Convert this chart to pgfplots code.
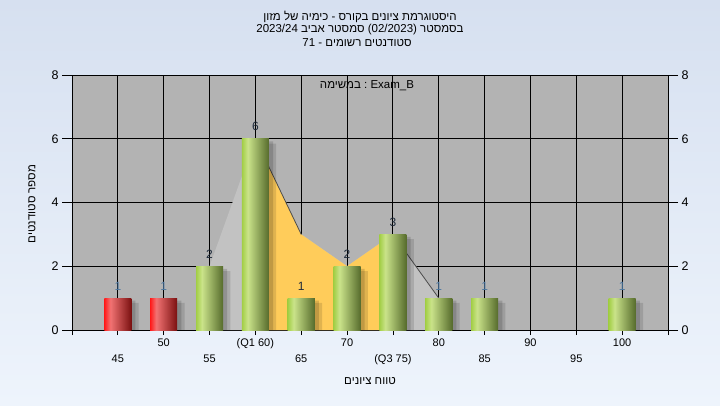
\documentclass[border=0pt]{standalone}
\usepackage{fontspec}
\setmainfont{Liberation Sans}
\newfontfamily\heb[Script=Hebrew]{Liberation Sans}
\usepackage{pgfplots}
\pgfplotsset{compat=1.18}
\TeXXeTstate=1

\definecolor{bgtop}{HTML}{D6E0F0}
\definecolor{bgbot}{HTML}{EEF4FC}
\definecolor{plotbg}{HTML}{B3B3B3}
\definecolor{areagray}{HTML}{C2C2C2}
\definecolor{areayel}{HTML}{FFCC5A}
\definecolor{redA}{HTML}{FF1A1A}
\definecolor{redB}{HTML}{F27373}
\definecolor{redC}{HTML}{7A1010}
\definecolor{grnA}{HTML}{A2CE45}
\definecolor{grnB}{HTML}{CAE38A}
\definecolor{grnC}{HTML}{566B2C}
\definecolor{lblDark}{HTML}{1E2A3A}
\definecolor{lblLight}{HTML}{4A76A0}

\pgfdeclarehorizontalshading{redbar}{100bp}{color(0bp)=(redA); color(25bp)=(redA); color(36bp)=(redB); color(75bp)=(redC); color(100bp)=(redC)}
\pgfdeclarehorizontalshading{grnbar}{100bp}{color(0bp)=(grnA); color(25bp)=(grnA); color(36bp)=(grnB); color(75bp)=(grnC); color(100bp)=(grnC)}

\pgfplotsset{
  barbase/.style={ybar, bar width=2.95, bar shift=0pt, draw=none, shade,
    nodes near coords,
    every node near coord/.append style={font=\fontsize{12}{12}\selectfont, anchor=south, yshift=4.5pt}},
  redb/.style={barbase, shading=redbar, every node near coord/.append style={text=lblLight}},
  grnd/.style={barbase, shading=grnbar, every node near coord/.append style={text=lblDark}},
  grnl/.style={barbase, shading=grnbar, every node near coord/.append style={text=lblLight}},
}

\begin{document}
\begin{tikzpicture}[x=1pt,y=1pt]
\shade[top color=bgtop, bottom color=bgbot] (0,0) rectangle (720,405);

\begin{axis}[
  at={(72pt,75pt)}, anchor=south west,
  scale only axis, width=596pt, height=255pt,
  xmin=40, xmax=105, ymin=0, ymax=8,
  axis background/.style={fill=plotbg},
  grid=major, grid style={black, line width=0.9pt},
  axis line style={black, line width=0.9pt},
  xtick={50,60,...,100},
  xticklabels={50,(Q1 60),70,80,90,100},
  extra x ticks={40,45,55,65,75,85,95,105},
  extra x tick labels={,45,55,65,(Q3 75),85,95,},
  extra x tick style={grid=major, tick label style={yshift=-16pt}},
  ytick={0,2,...,8}, yticklabels={},
  ytick style={draw=none},
  tick align=outside, tick pos=left,
  major tick length=5pt,
  xtick style={black, line width=0.8pt},
  tick label style={font=\fontsize{11}{12}\selectfont, black},
  /pgf/number format/assume math mode=true,
  clip=false,
]
% frequency polygon area
\addplot[fill=areagray, draw=none] coordinates {(55,2)(60,6)(65,3)(70,2)(75,3)(80,1)} \closedcycle;
\addplot[fill=areayel, draw=none] coordinates {(60,6)(65,3)(70,2)(75,3)} \closedcycle;
\addplot[color=black!70, line width=0.8pt] coordinates {(60,6)(65,3)};
\addplot[color=black!70, line width=0.8pt] coordinates {(75,3)(80,1)};
% shadows
\addplot[ybar, bar width=2.95, bar shift=0.45, fill=black, fill opacity=0.14, draw=none]
  coordinates {(45,0.92)(50,0.92)(55,1.92)(60,5.92)(65,0.92)(70,1.92)(75,2.92)(80,0.92)(85,0.92)(100,0.92)};
\addplot[ybar, bar width=2.95, bar shift=0.8, fill=black, fill opacity=0.12, draw=none]
  coordinates {(45,0.85)(50,0.85)(55,1.85)(60,5.85)(65,0.85)(70,1.85)(75,2.85)(80,0.85)(85,0.85)(100,0.85)};
% bars, one per plot so each gets its own shading
\addplot[redb] coordinates {(45,1)};
\addplot[redb] coordinates {(50,1)};
\addplot[grnd] coordinates {(55,2)};
\addplot[grnd] coordinates {(60,6)};
\addplot[grnd] coordinates {(65,1)};
\addplot[grnd] coordinates {(70,2)};
\addplot[grnd] coordinates {(75,3)};
\addplot[grnl] coordinates {(80,1)};
\addplot[grnl] coordinates {(85,1)};
\addplot[grnl] coordinates {(100,1)};
\end{axis}

% left y ticks
\begin{axis}[
  at={(72pt,75pt)}, anchor=south west,
  scale only axis, width=596pt, height=255pt,
  xmin=40, xmax=105, ymin=0, ymax=8,
  axis x line=none, axis y line*=left,
  axis line style={draw=none},
  ytick={0,2,...,8},
  tick align=outside, major tick length=10pt,
  ytick style={black, line width=0.8pt},
  tick label style={font=\fontsize{12.5}{13}\selectfont, black},
  /pgf/number format/assume math mode=true,
]
\addplot[draw=none] coordinates {(40,0)};
\end{axis}
% right y ticks
\begin{axis}[
  at={(72pt,75pt)}, anchor=south west,
  scale only axis, width=596pt, height=255pt,
  xmin=40, xmax=105, ymin=0, ymax=8,
  axis x line=none, axis y line*=right,
  axis line style={draw=none},
  ytick={0,2,...,8},
  tick align=outside, major tick length=10pt,
  ytick style={black, line width=0.8pt},
  tick label style={font=\fontsize{12.5}{13}\selectfont, black},
  /pgf/number format/assume math mode=true,
]
\addplot[draw=none] coordinates {(40,0)};
\end{axis}

% titles
\node[font=\heb\fontsize{11.5}{13}\selectfont, text=black] at (360,388) {\beginR היסטוגרמת ציונים בקורס - כימיה של מזון\endR};
\node[font=\heb\fontsize{11.5}{13}\selectfont, text=black] at (360,375) {\beginR בסמסטר \beginL(02/2023)\endL{}  סמסטר אביב \beginL 2023/24\endL\endR};
\node[font=\heb\fontsize{11.5}{13}\selectfont, text=black] at (357,362) {\beginR סטודנטים רשומים - 71\endR};
\node[font=\heb\fontsize{11.5}{13}\selectfont, text=black] at (367,319) {\beginR\beginL Exam\_B\endL{} : במשימה\endR};
\node[font=\heb\fontsize{11.5}{13}\selectfont, text=black] at (370,24) {\beginR טווח ציונים\endR};
\node[font=\heb\fontsize{11.5}{13}\selectfont, text=black, rotate=90] at (32,201) {\beginR מספר סטודנטים\endR};
\end{tikzpicture}
\end{document}
